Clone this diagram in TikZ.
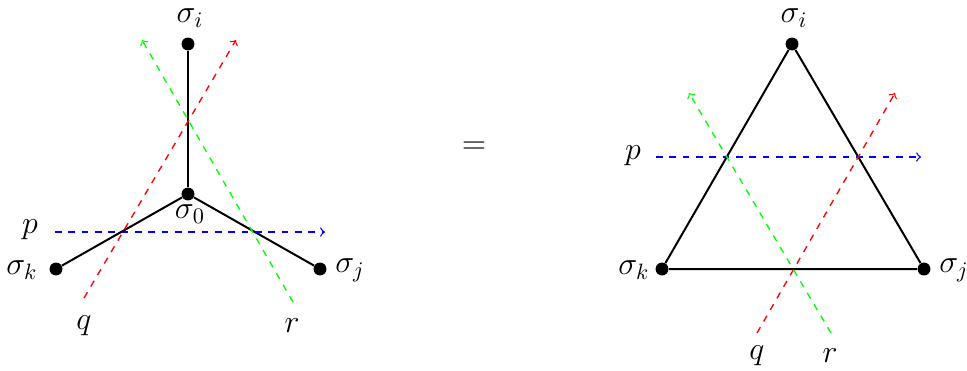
\documentclass[tikz,border=0pt]{standalone}
\definecolor{cutblue}{RGB}{0,0,255}
\definecolor{cutred}{RGB}{255,0,0}
\definecolor{cutgreen}{RGB}{0,255,0}
\begin{document}
\begin{tikzpicture}[x=0.45pt,y=-0.45pt,
  dot/.style={circle,fill=black,inner sep=0pt,minimum size=5.8pt},
  edge/.style={black,line width=0.9pt},
  cut/.style={dashed,line width=0.6pt,->},
  lbl/.style={inner sep=0pt,font=\Large}]
\useasboundingbox (0,0) rectangle (967,370);
% left
\node[dot] (i1) at (188,44) {};
\node[dot] (o1) at (188,194) {};
\node[dot] (k1) at (56,269) {};
\node[dot] (j1) at (320,269) {};
\node[lbl] (li1) at (190,18) {$\sigma_i$};
\node[lbl] (lo1) at (190,214) {$\sigma_0$};
\node[lbl] (lk1) at (22,270) {$\sigma_k$};
\node[lbl] (lj1) at (350,270) {$\sigma_j$};
\node[lbl] (lp1) at (30,230) {$p$};
\node[lbl] (lq1) at (84,326) {$q$};
\node[lbl] (lr1) at (292,326) {$r$};
\draw[edge] (i1) -- (o1);
\draw[edge] (o1) -- (k1);
\draw[edge] (o1) -- (j1);
\coordinate (ps1) at (55,232); \coordinate (pe1) at (325,232);
\coordinate (qs1) at (84,298); \coordinate (qe1) at (236,40);
\coordinate (rs1) at (293,302); \coordinate (re1) at (142,40);
\draw[cut,draw=cutblue] (ps1) -- (pe1);
\draw[cut,draw=cutred] (qs1) -- (qe1);
\draw[cut,draw=cutgreen] (rs1) -- (re1);
% equals
\node[lbl] (eq) at (474,148) {$=$};
% right
\node[dot] (i2) at (792,44) {};
\node[dot] (k2) at (662,269) {};
\node[dot] (j2) at (924,269) {};
\node[lbl] (li2) at (794,18) {$\sigma_i$};
\node[lbl] (lk2) at (634,270) {$\sigma_k$};
\node[lbl] (lj2) at (954,270) {$\sigma_j$};
\node[lbl] (lp2) at (633,156) {$p$};
\node[lbl] (lq2) at (757,356) {$q$};
\node[lbl] (lr2) at (830,356) {$r$};
\draw[edge] (i2) -- (k2) -- (j2) -- (i2);
\coordinate (ps2) at (656,157); \coordinate (pe2) at (921,157);
\coordinate (qs2) at (757,333); \coordinate (qe2) at (895,93);
\coordinate (rs2) at (831,333); \coordinate (re2) at (689,93);
\draw[cut,draw=cutblue] (ps2) -- (pe2);
\draw[cut,draw=cutred] (qs2) -- (qe2);
\draw[cut,draw=cutgreen] (rs2) -- (re2);
\end{tikzpicture}
\end{document}
